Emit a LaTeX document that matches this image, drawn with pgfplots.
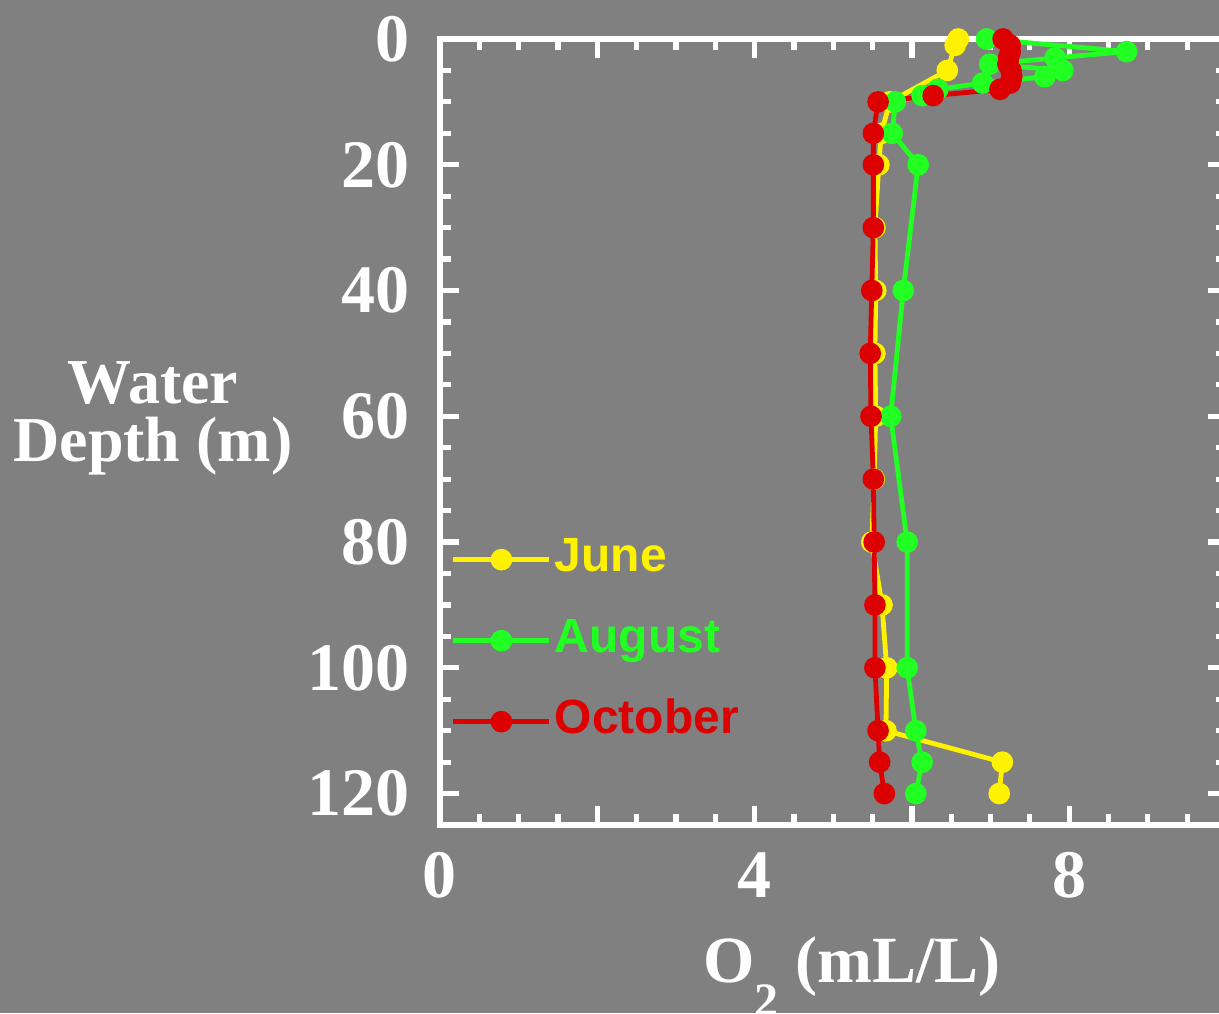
\documentclass[border=0pt]{standalone}
\usepackage{pgfplots}
\pgfplotsset{compat=1.18}
\usepackage{fontspec}
\setmainfont{Liberation Serif}
\newfontfamily\legendfont{Liberation Sans}
\usetikzlibrary{backgrounds}

\definecolor{bg}{RGB}{128,128,128}
\definecolor{junec}{RGB}{255,242,0}
\definecolor{augc}{RGB}{34,255,34}
\definecolor{octc}{RGB}{221,0,0}

\begin{document}
\begin{tikzpicture}
\begin{axis}[
  scale only axis,
  width=393.25pt, height=393pt,
  xmin=0, xmax=10, ymin=0, ymax=125,
  y dir=reverse,
  axis line style={white, line width=3pt},
  tick style={white, line width=2.6pt},
  major tick length=9.5pt, minor tick length=5.5pt,
  tick align=inside,
  xtick={0,2,4,6,8},
  xticklabels={0,,4,,8},
  minor xtick={0.5,1,1.5,2.5,3,3.5,4.5,5,5.5,6.5,7,7.5,8.5,9,9.5},
  ytick={0,20,40,60,80,100,120},
  yticklabels={0,20,40,60,80,100,120},
  minor y tick num=3,
  ticklabel style={font=\bfseries\fontsize{34}{34}\selectfont, text=white, inner sep=0pt},
  xticklabel style={yshift=-13.5pt},
  yticklabel style={xshift=-15pt},
  xlabel={O\raisebox{-17pt}{\fontsize{24}{24}\selectfont 2} (mL/L)},
  every axis x label/.style={at={(axis cs:5.24,125)}, anchor=base, yshift=-78.5pt,
    font=\bfseries\fontsize{33}{33}\selectfont, text=white},
  ylabel={Water\\Depth (m)},
  every axis y label/.style={at={(axis cs:0,60.3)}, anchor=center, xshift=-143.5pt,
    align=center, font=\bfseries\fontsize{32}{29}\selectfont, text=white},
  every axis plot/.append style={mark=*, mark size=4.2pt, mark options={solid}},
  legend image code/.code={
    \draw[mark repeat=2, mark phase=2, #1] plot coordinates {(0pt,0pt) (24pt,0pt) (48pt,0pt)};
  },
  legend style={at={(axis cs:0.14,79.3)}, anchor=north west, draw=none, fill=none,
    inner sep=0pt, outer sep=0pt, row sep=18.5pt, column sep=1.5pt,
    font=\legendfont\bfseries\fontsize{24}{24}\selectfont,
    nodes={inner sep=0pt, text height=17pt, text depth=5pt}},
  legend cell align=left,
]
\coordinate (BL) at (axis cs:0,125);

% June profile
\addplot[color=junec, line width=2.4pt] coordinates {
  (6.59,0) (6.55,1) (6.45,5) (5.72,10) (5.61,15) (5.58,20) (5.53,30)
  (5.54,40) (5.53,50) (5.54,60) (5.52,70) (5.49,80) (5.62,90) (5.68,100)
  (5.67,110) (7.15,115) (7.11,120)
};
\addlegendentry{\textcolor{junec}{June}}

% August profile
\addplot[color=augc, line width=2.4pt] coordinates {
  (6.95,0) (8.73,2) (7.82,3) (6.99,4) (7.92,5) (7.69,6) (6.90,7) (6.33,8)
  (6.13,9) (5.79,10) (5.75,15) (6.08,20) (5.89,40) (5.73,60) (5.94,80)
  (5.94,100) (6.05,110) (6.13,115) (6.05,120)
};
\addlegendentry{\textcolor{augc}{August}}

% October profile
\addplot[color=octc, line width=2.4pt] coordinates {
  (7.16,0) (7.25,1) (7.25,2) (7.23,3) (7.22,4) (7.26,5) (7.27,6) (7.25,7)
  (7.12,8) (6.27,9) (5.57,10) (5.51,15) (5.51,20) (5.51,30) (5.49,40)
  (5.47,50) (5.48,60) (5.51,70) (5.52,80) (5.53,90) (5.53,100) (5.57,110)
  (5.59,115) (5.65,120)
};
\addlegendentry{\textcolor{octc}{October}}
\end{axis}

% page area: the frame's right edge falls just outside it
\pgfresetboundingbox
\path ([shift={(-220pt,-94pt)}]BL) coordinate (PA) rectangle ([shift={(389.5pt,412.5pt)}]BL) coordinate (PB);
\begin{scope}[on background layer]
  \fill[bg] (PA) rectangle (PB);
\end{scope}
\end{tikzpicture}
\end{document}
